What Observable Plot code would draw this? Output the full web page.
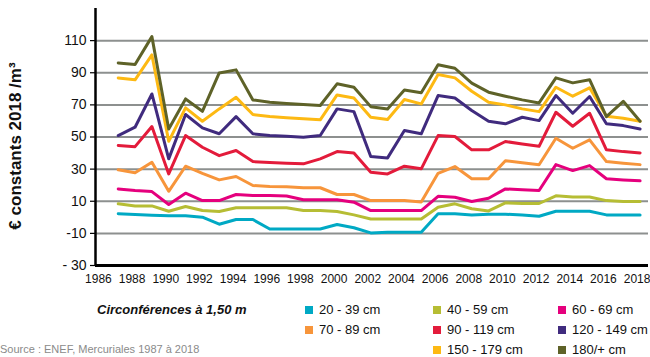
<!DOCTYPE html>
<html><head><meta charset="utf-8">
<script src="https://cdn.jsdelivr.net/npm/d3@7"></script>
<script src="https://cdn.jsdelivr.net/npm/@observablehq/plot@0.6"></script>
<style>
body{margin:0;background:#fff;font-family:"Liberation Sans",Arial,Helvetica,sans-serif;}
#wrap{position:relative;width:650px;height:357px;overflow:hidden;background:#fff;}
#chart{position:absolute;left:0;top:0;}
.ylab{position:absolute;left:16px;top:146px;transform:translate(-50%,-50%) rotate(-90deg);font-weight:bold;font-size:17px;white-space:nowrap;color:#111;}
.ltitle{position:absolute;left:97px;top:302px;font-weight:bold;font-style:italic;font-size:13px;color:#111;white-space:nowrap;}
.item{position:absolute;font-size:13px;color:#111;white-space:nowrap;line-height:16px;}
.sw{display:inline-block;width:8px;height:8px;margin-right:6px;vertical-align:0px;}
.source{position:absolute;left:0;top:343px;font-size:11px;line-height:13px;color:#8a8a8a;white-space:nowrap;}
</style>
</head><body>
<div id="wrap">
  <div id="chart"></div>
  <div class="ylab">€ constants 2018 /m³</div>
  <div class="ltitle">Circonférences à 1,50 m</div>
  <div id="legend"></div>
  <div class="source">Source : ENEF, Mercuriales 1987 à 2018</div>
</div>
<script>
const years = [1987,1988,1989,1990,1991,1992,1993,1994,1995,1996,1997,1998,1999,2000,2001,2002,2003,2004,2005,2006,2007,2008,2009,2010,2011,2012,2013,2014,2015,2016,2017,2018];

const s20_39   = [2.2,1.7,1.3,0.9,0.9,0.1,-4.3,-1.4,-1.4,-7.3, -7.3,-7.3,-7.3,-4.5,-6.5,-9.7,-9.3,-9.3,-9.3,2.2, 2.2,1.5,1.9,1.9,1.5,0.7,3.8,3.8,3.8,1.5, 1.5,1.5];
const s40_59   = [8.4,7.1,7.1,3.8,6.7,4.2,3.6,5.9,5.9,5.9, 5.9,4.2,4.2,3.6,1.5,-1,-1,-1,-1,6.3, 8.4,5.3,4,9,8.6,8.6,13.4,12.7,12.7,10.4, 9.8,9.8];
const s60_69   = [17.7,16.7,16,8,15,10.4,10.4,14.2,13.6,13.6, 13.3,10.9,10.9,10.9,9.4,4.2,4.2,4.2,4.2,13.1, 12.5,9.8,11.9,17.7,17.1,16.7,32.8,29.1,32.2,24, 23.3,22.7];
const s70_89   = [29.6,27.7,34.3,16.2,31.8,27.4,23.3,25.4,19.8,19.2, 19,18.4,18.4,14.2,14.2,10.4,10.4,10.4,9.6,27.4, 31.6,24,24,35.2,33.9,32.7,49.2,43,48.2,34.7, 33.7,32.8];
const s90_119  = [44.7,44,56.5,27,50.9,43.6,38.4,41.6,34.7,34.1, 33.7,33.3,36.4,40.9,40.1,28.1,27,31.8,30.2,50.9, 50.3,42,42,47.2,45.7,44.2,65.4,56.7,64.8,42, 40.9,40.1];
const s120_149 = [50.9,56.1,76.8,36.4,64,55.7,52,62.7,52,50.9, 50.4,49.9,50.9,67.5,65.8,37.8,37,54,52,75.8, 74.3,66.5,59.8,58.2,62.3,60.2,75.8,64.8,75.2,58.2, 57.1,55];
const s150_179 = [86.8,85.6,101.1,47.3,68.1,59.8,67.5,74.7,64,62.7, 62,61.3,60.7,76.2,74.3,62.3,60.9,73.3,70.6,88.9, 86.8,78.5,71.6,70,67.5,65.8,81,75.4,80.6,62.9, 61.7,59.8];
const s180     = [96.1,95.1,112.5,55,73.7,66,89.9,91.8,73.1,71.6, 70.8,70.2,69.6,83.1,81,68.9,67.5,79.3,77.5,95, 92.8,83.5,77.9,75.4,73.1,71.2,86.8,83.7,85.7,62.7, 72.2,59.8];

const seriesNames = ["20 - 39 cm","40 - 59 cm","60 - 69 cm","70 - 89 cm","90 - 119 cm","120 - 149 cm","150 - 179 cm","180/+ cm"];
const seriesValues = [s20_39,s40_59,s60_69,s70_89,s90_119,s120_149,s150_179,s180];
const colors = ["#00a9c4","#b6bd34","#e5007d","#f7953b","#e31b3b","#402b7e","#fdb913","#5e6228"];

const yTicks = [-30,-10,10,30,50,70,90,110];
const yTickLabels = ["- 30","-10","10","30","50","70","90","110"];
const xTicks = [1986,1988,1990,1992,1994,1996,1998,2000,2002,2004,2006,2008,2010,2012,2014,2016,2018];

const rows = [];
seriesNames.forEach((name, i) => {
  years.forEach((yr, j) => rows.push({series: name, year: yr, value: seriesValues[i][j]}));
});

const xMin = 1985.65, yMin = -30, yMax = 130;

const chart = Plot.plot({
  width: 650, height: 290,
  marginLeft: 95, marginRight: 2, marginTop: 8, marginBottom: 25,
  style: {fontFamily: "'Liberation Sans', Arial, Helvetica, sans-serif", background: "transparent", color: "#111"},
  x: {domain: [xMin, 2018.5], label: null},
  y: {domain: [yMin, yMax], label: null},
  color: {domain: seriesNames, range: colors},
  marks: [
    Plot.gridY(yTicks, {stroke: "#8d908f", strokeOpacity: 1, strokeWidth: 2}),
    Plot.line(rows, {x: "year", y: "value", z: "series", stroke: "series", strokeWidth: 3, strokeLinejoin: "round"}),
    Plot.axisY(yTicks, {tickSize: 5, tickPadding: 4, fontSize: 14, stroke: "#000", strokeWidth: 1.2,
      tickFormat: d => yTickLabels[yTicks.indexOf(d)]}),
    Plot.axisX(xTicks, {tickSize: 0, tickPadding: 9, fontSize: 12, dx: -3, tickFormat: d => String(d)}),
    Plot.ruleX([xMin], {y1: yMin, y2: yMax, stroke: "#000", strokeWidth: 2.5}),
    Plot.ruleY([yMin], {stroke: "#000", strokeWidth: 3})
  ]
});
document.getElementById("chart").appendChild(chart);

// legend
const slots = [[305,310],[433,310],[558,310],[305,329.5],[433,329.5],[558,329.5],[433,349.5],[558,349.5]];
const leg = document.getElementById("legend");
seriesNames.forEach((name, i) => {
  const d = document.createElement("div");
  d.className = "item";
  d.style.left = slots[i][0] + "px";
  d.style.top = (slots[i][1] - 8) + "px";
  d.innerHTML = `<span class="sw" style="background:${colors[i]}"></span>${name}`;
  leg.appendChild(d);
});
</script>
</body></html>
